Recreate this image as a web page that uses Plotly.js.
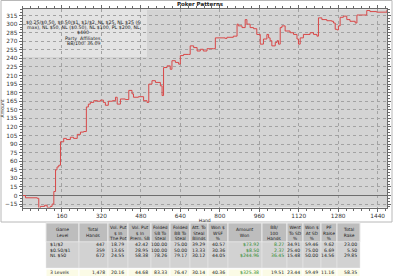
<!DOCTYPE html>
<html><head><meta charset="utf-8">
<script src="https://cdn.plot.ly/plotly-3.0.1.min.js"></script>
<style>html,body{margin:0;padding:0;background:#fff;overflow:hidden}#chart{width:400px;height:278px}</style>
</head><body><div id="chart"></div>
<script>
// ---- data ----
const hands = [0,12,60,66,73,90,100,113,120,127,134,140,147,154,167,178,194,207,222,235,248,259,267,275,289,304,316,328,336,348,365,377,384,397,417,431,444,450,470,491,505,512,525,539,559,566,572,586,599,606,620,633,640,653,674,680,694,708,721,733,748,774,782,822,829,855,870,875,890,903,910,923,937,950,964,977,991,998,1004,1011,1025,1032,1038,1045,1052,1065,1085,1099,1113,1119,1126,1139,1166,1180,1194,1200,1214,1234,1254,1261,1268,1275,1281,1288,1301,1315,1328,1349,1356,1382,1396,1409,1436,1478];
const amounts = [0,-4,-5,-22,-19,-17,-21,-19,-15,7,45,50,53,94,100,98,102,100,107,111,112,155,160,163,166,165,167,163,158,165,166,172,160,169,168,184,178,172,173,166,163,195,201,198,192,175,224,227,221,236,233,230,245,247,247,262,259,253,256,253,257,257,276,275,277,279,300,297,294,308,300,294,292,282,265,274,282,276,271,262,268,271,265,294,297,288,285,282,274,265,276,282,285,282,279,311,308,306,305,302,291,290,297,312,314,308,305,302,316,316,324,322,321,325.38];
const xTickVals = [160,320,480,640,800,960,1120,1280,1440];
const legendLines = ['$0.25/$0.50, $0.50/$1, $1/$2, NL $25, NL $25 (6','max), NL $50, NL ($0.50), NL $100, PL $200, NL','$400','Party  Affiliates','BB/100: 36.09'];
const headers = ['Game<br>Level','Total<br>Hands','Vol. Put<br>$ In<br>The Pot','Vol. Put<br>$ In<br>Prem. SB','Folded<br>SB To<br>Steal','Folded<br>BB To<br>Steal','Att. To<br>Steal<br>Blinds','Won $<br>WSF<br>%','Amount<br>Won','BB/<br>100<br>Hands','Went<br>To SD<br>%','Won $<br>At SD<br>%','PF<br>Raise<br>%','Total<br>Rake'];
const row1 = ['$1/$2','447','18.79','42.42','100.00','75.00','39.29','40.57','$73.92','8.27','34.91','59.46','9.62','23.00'];
const row2 = ['$0.50/$1','359','13.65','28.95','100.00','50.00','13.33','30.36','$8.50','2.37','25.40','75.00','6.69','5.50'];
const row3 = ['NL $50','672','24.55','58.38','78.26','79.17','30.12','44.05','$244.96','36.45','15.48','50.00','14.56','29.85'];
const totalRow = ['3 Levels','1,478','20.16','44.68','83.33','76.47','30.14','40.36','$325.38','19.51','23.44','59.49','11.16','58.35'];
const greenCols = [8,9];

// ---- layout helpers ----
const W=400,H=278;
const px=x=>x/W, py=y=>1-y/H;
const FONT='DejaVu Sans';
const colEdges=[46,79,108,128,151,170,190,208,228,262,287,303,321,337,360];
const shapes=[], annotations=[];

// chart frame
shapes.push({type:'rect',xref:'paper',yref:'paper',x0:px(1),x1:px(392),y0:py(222),y1:py(0.5),line:{color:'#b8b8b8',width:1},fillcolor:'rgba(0,0,0,0)',layer:'below'});
// legend box inside plot
shapes.push({type:'rect',xref:'paper',yref:'paper',x0:px(22.5),x1:px(147),y0:py(57),y1:py(9.5),line:{width:0},fillcolor:'#e3e3e3',layer:'between'});
legendLines.forEach((t,i)=>annotations.push({xref:'paper',yref:'paper',x:px(83),y:py(22.5+5.2*i),text:t,showarrow:false,xanchor:'center',yanchor:'middle',font:{family:FONT,size:4.7,color:'#222'}}));

// table
const hdrTop=223,hdrBot=242,rowH=5.33,dataTop=242;
for(let c=0;c<headers.length;c++){
  const l=colEdges[c],r=colEdges[c+1];
  shapes.push({type:'rect',xref:'paper',yref:'paper',x0:px(l),x1:px(r),y0:py(hdrBot),y1:py(hdrTop),fillcolor:'#bdbdbd',line:{color:'#e8e8e8',width:1}});
  annotations.push({xref:'paper',yref:'paper',x:px((l+r)/2),y:py((hdrTop+hdrBot)/2),text:headers[c],showarrow:false,xanchor:'center',yanchor:'middle',align:'center',font:{family:FONT,size:4.4,color:'#222'}});
  shapes.push({type:'rect',xref:'paper',yref:'paper',x0:px(l),x1:px(r),y0:py(268),y1:py(dataTop),fillcolor:'#d2d2d2',line:{color:'#e8e8e8',width:0.5}});
  shapes.push({type:'rect',xref:'paper',yref:'paper',x0:px(l),x1:px(r),y0:py(276.5),y1:py(269),fillcolor:'#fbfbe6',line:{color:'#ffffff',width:1}});
}
[row1,row2,row3].forEach((row,ri)=>{
  row.forEach((v,c)=>{
    const l=colEdges[c],r=colEdges[c+1];
    annotations.push({xref:'paper',yref:'paper',x:px(c===0?l+1.5:r-1.5),y:py(dataTop+rowH*ri+2.9),text:v,showarrow:false,xanchor:c===0?'left':'right',yanchor:'middle',font:{family:FONT,size:4.6,color:greenCols.includes(c)?'#2e8b2e':'#222'}});
  });
});
totalRow.forEach((v,c)=>{
  const l=colEdges[c],r=colEdges[c+1];
  annotations.push({xref:'paper',yref:'paper',x:px(c===0?l+1.5:r-1.5),y:py(272.8),text:v,showarrow:false,xanchor:c===0?'left':'right',yanchor:'middle',font:{family:FONT,size:4.6,color:c===8?'#2e8b2e':'#222'}});
});

const trace={x:hands,y:amounts,type:'scatter',mode:'lines',line:{shape:'hv',color:'#d94848',width:1},hoverinfo:'skip'};

const axisCommon={showline:true,linecolor:'#6a6a6a',linewidth:1,mirror:'ticks',ticks:'outside',ticklen:3,tickcolor:'#6a6a6a',tickwidth:1,
  tickfont:{family:FONT,size:5.8,color:'#333'},showgrid:true,gridcolor:'#a2a2a2',griddash:'dot',gridwidth:1,fixedrange:true};
const layout={
  width:W,height:H,margin:{l:0,r:0,t:0,b:0},paper_bgcolor:'#ffffff',plot_bgcolor:'#d4d4d4',showlegend:false,
  title:{text:'<b>Poker Patterns</b>',x:0.5,xanchor:'center',y:py(4.5),yanchor:'middle',font:{family:FONT,size:5.5,color:'#222'}},
  xaxis:Object.assign({},axisCommon,{domain:[px(22.5),px(387)],range:[0,1478],tickmode:'array',tickvals:xTickVals,zeroline:false,
    minor:{dtick:32,tick0:0,ticks:'outside',ticklen:2,tickcolor:'#6a6a6a',showgrid:false},
    title:{text:'Hand',standoff:0,font:{family:FONT,size:4.6,color:'#222'}}}),
  yaxis:Object.assign({},axisCommon,{domain:[py(207.5),py(9.3)],range:[-21,326],tick0:0,dtick:15,zeroline:true,zerolinecolor:'#6e6e6e',zerolinewidth:1,
    minor:{dtick:5,tick0:0,ticks:'outside',ticklen:2,tickcolor:'#6a6a6a',showgrid:false},
    title:{text:'Amount',standoff:2,font:{family:FONT,size:4.6,color:'#222'}}}),
  shapes:shapes,annotations:annotations
};
Plotly.newPlot('chart',[trace],layout,{staticPlot:true,displayModeBar:false});
</script></body></html>
